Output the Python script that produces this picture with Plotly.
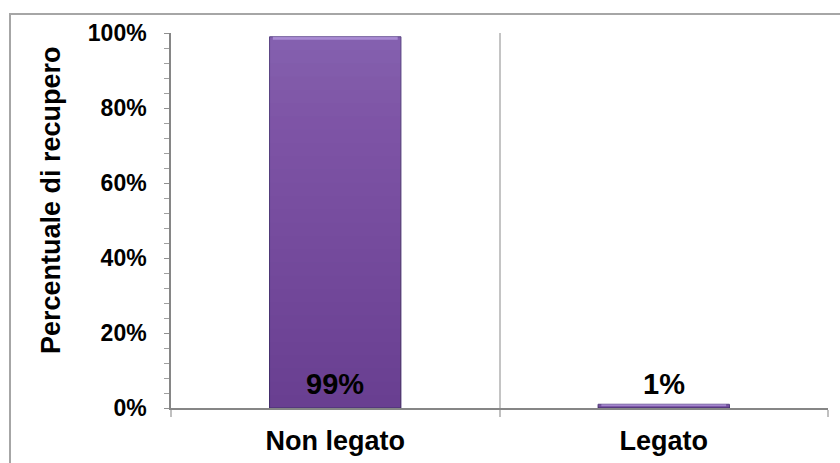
import plotly.graph_objects as go

# Recovery share by binding state
categories = ["Non legato", "Legato"]
recovery = [0.99, 0.01]

y_title = "Percentuale di recupero"

FONT = "Liberation Sans, Arial, sans-serif"
W, H = 840, 463
ML, MR, MT, MB = 171, 12, 33, 55
PW, PH = W - ML - MR, H - MT - MB

fig = go.Figure()

# base bar colour (lighter purple at the top)
fig.add_trace(go.Bar(
    x=categories, y=recovery,
    marker=dict(color="#8562b1", line=dict(color="#5a4484", width=1)),
    width=0.4, hoverinfo="skip", showlegend=False,
))

# stacked translucent layers darken the bar toward its base
N = 28
for i in range(1, N + 1):
    fig.add_trace(go.Bar(
        x=categories, y=[v * i / N for v in recovery],
        marker=dict(color="rgba(45,25,80,0.013)", line=dict(width=0)),
        width=0.4, hoverinfo="skip", showlegend=False,
    ))

# light bevel along the top edge
bevel = 0.008
fig.add_trace(go.Bar(
    x=categories, y=[min(bevel, v * 0.5) for v in recovery],
    base=[v - min(bevel, v * 0.5) for v in recovery],
    marker=dict(color="rgba(200,175,240,0.55)", line=dict(width=0)),
    width=0.38, hoverinfo="skip", showlegend=False,
))

# value labels just above the baseline
for c, v in zip(categories, recovery):
    fig.add_annotation(
        x=c, y=0, xref="x", yref="y", text=f"<b>{v:.0%}</b>",
        showarrow=False, yanchor="bottom", yshift=6,
        font=dict(family=FONT, size=29, color="#000000"),
    )

# y-axis title
fig.add_annotation(
    x=(51 - ML) / PW, y=(H - MB - 200) / PH, xref="paper", yref="paper",
    text=f"<b>{y_title}</b>", textangle=-90, showarrow=False,
    xanchor="center", yanchor="middle",
    font=dict(family=FONT, size=27, color="#000000"),
)

# outer chart frame
fig.add_shape(
    type="rect", xref="paper", yref="paper",
    x0=(10 - ML) / PW, x1=1.2, y0=-0.3, y1=(H - MB - 14) / PH,
    line=dict(color="#a6a6a6", width=2), fillcolor="rgba(0,0,0,0)",
    layer="below",
)

fig.update_layout(
    width=W, height=H,
    margin=dict(l=ML, r=MR, t=MT, b=MB),
    paper_bgcolor="white", plot_bgcolor="white",
    barmode="overlay",
    font=dict(family=FONT, color="#000000"),
    xaxis=dict(
        type="category", tickson="boundaries", automargin=False,
        ticks="outside", ticklen=7, tickcolor="#c0c0c0", tickwidth=1.5,
        showgrid=True, gridcolor="#c4c4c4", gridwidth=1.5,
        showline=True, linecolor="#868686", linewidth=1.5,
        tickfont=dict(family=FONT, size=27, color="#000000"),
        ticklabelstandoff=8,
        tickprefix="<b>", ticksuffix="</b>",
    ),
    yaxis=dict(
        range=[0, 1], dtick=0.2, tickformat=".0%", automargin=False,
        ticks="outside", ticklen=5, tickcolor="#909090",
        minor=dict(dtick=0.04, ticks="outside", ticklen=5, tickcolor="#a0a0a0"),
        showgrid=False, zeroline=False,
        showline=True, linecolor="#868686", linewidth=1.5,
        tickfont=dict(family=FONT, size=23, color="#000000"),
        ticklabelstandoff=13,
        tickprefix="<b>", ticksuffix="</b>",
    ),
)

fig.write_html("out.html")
